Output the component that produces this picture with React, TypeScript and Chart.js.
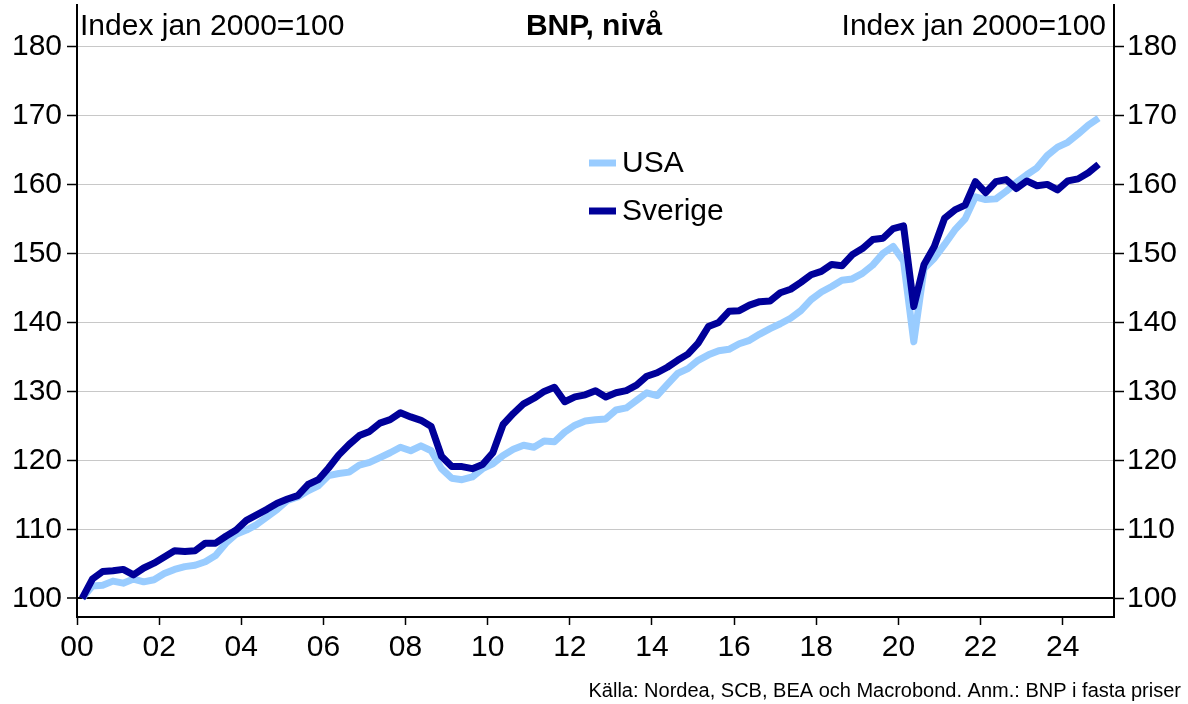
import React, { useEffect, useRef } from "react";
import { Chart, registerables } from "chart.js";

Chart.register(...registerables);

const FONT = '"Liberation Sans", Arial, Helvetica, sans-serif';

// Quarterly observations 2000 Q1 .. 2024 Q4
const firstYear = 2000;
const lastYear = 2024;
const quarters: string[] = [];
for (let y = firstYear; y <= lastYear; y++) {
  for (let q = 1; q <= 4; q++) quarters.push(`${y}Q${q}`);
}
// decimal-year position of each quarter (mid-quarter)
const quarterToYear = (label: string) => {
  const [y, q] = label.split("Q").map(Number);
  return y + (q - 1) / 4 + 0.125;
};

const usa = [
  100.0, 101.8, 101.9, 102.5,
  102.2, 102.8, 102.4, 102.7,
  103.6, 104.2, 104.6, 104.8,
  105.3, 106.2, 108.0, 109.3,
  109.9, 110.7, 111.8, 112.9,
  114.2, 114.7, 115.6, 116.3,
  117.8, 118.1, 118.3, 119.3,
  119.7, 120.4, 121.1, 121.9,
  121.4, 122.1, 121.4, 118.8,
  117.4, 117.2, 117.6, 118.8,
  119.5, 120.7, 121.6, 122.2,
  121.9, 122.8, 122.7, 124.1,
  125.1, 125.7, 125.9, 126.0,
  127.3, 127.6, 128.7, 129.8,
  129.4, 131.0, 132.6, 133.3,
  134.5, 135.3, 135.9, 136.1,
  136.9, 137.4, 138.3, 139.1,
  139.8, 140.6, 141.7, 143.3,
  144.4, 145.2, 146.1, 146.3,
  147.1, 148.3, 150.0, 151.0,
  148.9, 137.2, 147.8, 149.3,
  151.3, 153.4, 155.0, 158.2,
  157.8, 157.9, 159.0, 160.3,
  161.4, 162.4, 164.2, 165.4,
  166.1, 167.3, 168.6, 169.6,
];

const sverige = [
  100.0, 102.8, 103.9, 104.0,
  104.2, 103.4, 104.4, 105.1,
  106.0, 106.9, 106.8, 106.9,
  108.0, 108.0, 109.0, 109.9,
  111.3, 112.1, 112.9, 113.8,
  114.4, 114.9, 116.5, 117.2,
  118.9, 120.8, 122.3, 123.6,
  124.2, 125.4, 125.9, 126.9,
  126.3, 125.8, 124.9, 120.6,
  119.1, 119.1, 118.8, 119.4,
  121.1, 125.2, 126.8, 128.2,
  129.0, 130.0, 130.6, 128.5,
  129.2, 129.5, 130.1, 129.2,
  129.8, 130.1, 130.9, 132.2,
  132.7, 133.5, 134.5, 135.4,
  137.0, 139.4, 140.0, 141.6,
  141.7, 142.5, 143.0, 143.1,
  144.3, 144.8, 145.8, 146.9,
  147.4, 148.4, 148.2, 149.8,
  150.7, 152.0, 152.2, 153.6,
  154.0, 142.3, 148.4, 151.0,
  155.1, 156.3, 157.0, 160.4,
  158.8, 160.4, 160.7, 159.4,
  160.5, 159.8, 160.0, 159.2,
  160.5, 160.8, 161.7, 162.9,
];

const seriesNames = ["USA", "Sverige"];
const seriesColors = ["#99CCFF", "#000099"];

const title = "BNP, nivå";
const axisNoteLeft = "Index jan 2000=100";
const axisNoteRight = "Index jan 2000=100";
const footer = "Källa: Nordea, SCB, BEA och Macrobond. Anm.: BNP i fasta priser";

const yMin = 97.3;
const yMax = 186;
const yStep = 10;
const xMin = 2000;
const xMax = 2025.25;
const xStep = 2;

const BIG = 30;
const LINE_W = 7;

const textPlugin = {
  id: "texts",
  afterDraw(chart: any) {
    const ctx = chart.ctx;
    ctx.save();
    ctx.fillStyle = "#000";
    ctx.textBaseline = "alphabetic";
    ctx.font = `${BIG}px ${FONT}`;
    ctx.textAlign = "left";
    ctx.fillText(axisNoteLeft, 80, 35);
    ctx.textAlign = "right";
    ctx.fillText(axisNoteRight, 1106, 35);
    ctx.font = `bold ${BIG}px ${FONT}`;
    ctx.textAlign = "center";
    ctx.fillText(title, 594, 35);
    ctx.font = `20px ${FONT}`;
    ctx.textAlign = "right";
    ctx.fillText(footer, 1181, 697);

    // legend
    const legendY = [163, 211];
    ctx.font = `${BIG}px ${FONT}`;
    ctx.textAlign = "left";
    ctx.textBaseline = "middle";
    seriesNames.forEach((name, i) => {
      ctx.strokeStyle = seriesColors[i];
      ctx.lineWidth = LINE_W;
      ctx.beginPath();
      ctx.moveTo(589, legendY[i]);
      ctx.lineTo(616, legendY[i]);
      ctx.stroke();
      ctx.fillStyle = "#000";
      ctx.fillText(name, 622, legendY[i] + 1);
    });
    ctx.restore();
  },
};

export default function App() {
  const ref = useRef<HTMLCanvasElement>(null);
  useEffect(() => {
    if (!ref.current) return;
    const xs = quarters.map(quarterToYear);
    const fitY = (w: number) => (s: any) => {
      s.width = w;
      s.paddingTop = 0;
      s.paddingBottom = 0;
    };
    const chart = new Chart(ref.current, {
      type: "line",
      data: {
        datasets: [
          {
            label: seriesNames[0],
            data: usa.map((v, i) => ({ x: xs[i], y: v })),
            borderColor: seriesColors[0],
            borderWidth: LINE_W,
            pointRadius: 0,
            tension: 0,
            order: 1,
            borderJoinStyle: "round",
          },
          {
            label: seriesNames[1],
            data: sverige.map((v, i) => ({ x: xs[i], y: v })),
            borderColor: seriesColors[1],
            borderWidth: LINE_W,
            pointRadius: 0,
            tension: 0,
            order: 0,
            borderJoinStyle: "round",
          },
        ],
      },
      options: {
        responsive: false,
        animation: false,
        devicePixelRatio: 1,
        layout: { padding: { top: 5, left: 0, right: 0, bottom: 0 } },
        plugins: { legend: { display: false }, tooltip: { enabled: false } },
        scales: {
          x: {
            type: "linear",
            min: xMin,
            max: xMax,
            ticks: {
              stepSize: xStep,
              includeBounds: false,
              autoSkip: false,
              maxRotation: 0,
              color: "#000",
              padding: 5,
              font: { size: BIG, family: FONT },
              callback: (v: any) => String(Math.round(Number(v)) % 100).padStart(2, "0"),
            },
            grid: {
              drawOnChartArea: false,
              drawTicks: true,
              tickLength: 8,
              tickColor: "#000",
              tickWidth: 1.5,
            },
            border: { display: true, color: "#000", width: 2 },
            afterFit: (s: any) => {
              s.height = 87;
              s.paddingLeft = 0;
              s.paddingRight = 0;
            },
          },
          y: {
            position: "left",
            min: yMin,
            max: yMax,
            ticks: {
              stepSize: yStep,
              includeBounds: false,
              color: "#000",
              padding: 5,
              font: { size: BIG, family: FONT },
            },
            grid: {
              color: (c: any) => (c.tick && c.tick.value === 100 ? "#000" : "#C8C8C8"),
              lineWidth: (c: any) => (c.tick && c.tick.value === 100 ? 2 : 1),
              drawTicks: true,
              tickLength: 10,
              tickColor: "#000",
              tickWidth: 1.5,
            },
            border: { display: true, color: "#000", width: 2 },
            afterFit: fitY(77),
          },
          y2: {
            position: "right",
            min: yMin,
            max: yMax,
            ticks: {
              stepSize: yStep,
              includeBounds: false,
              color: "#000",
              padding: 3,
              font: { size: BIG, family: FONT },
            },
            grid: {
              drawOnChartArea: false,
              drawTicks: true,
              tickLength: 10,
              tickColor: "#000",
              tickWidth: 1.5,
            },
            border: { display: true, color: "#000", width: 2 },
            afterFit: fitY(74),
          },
        },
      },
      plugins: [textPlugin],
    } as any);
    return () => chart.destroy();
  }, []);
  return (
    <div style={{ position: "fixed", left: 0, top: 0, width: 1188, height: 704, background: "#fff" }}>
      <canvas ref={ref} width={1188} height={704} />
    </div>
  );
}
